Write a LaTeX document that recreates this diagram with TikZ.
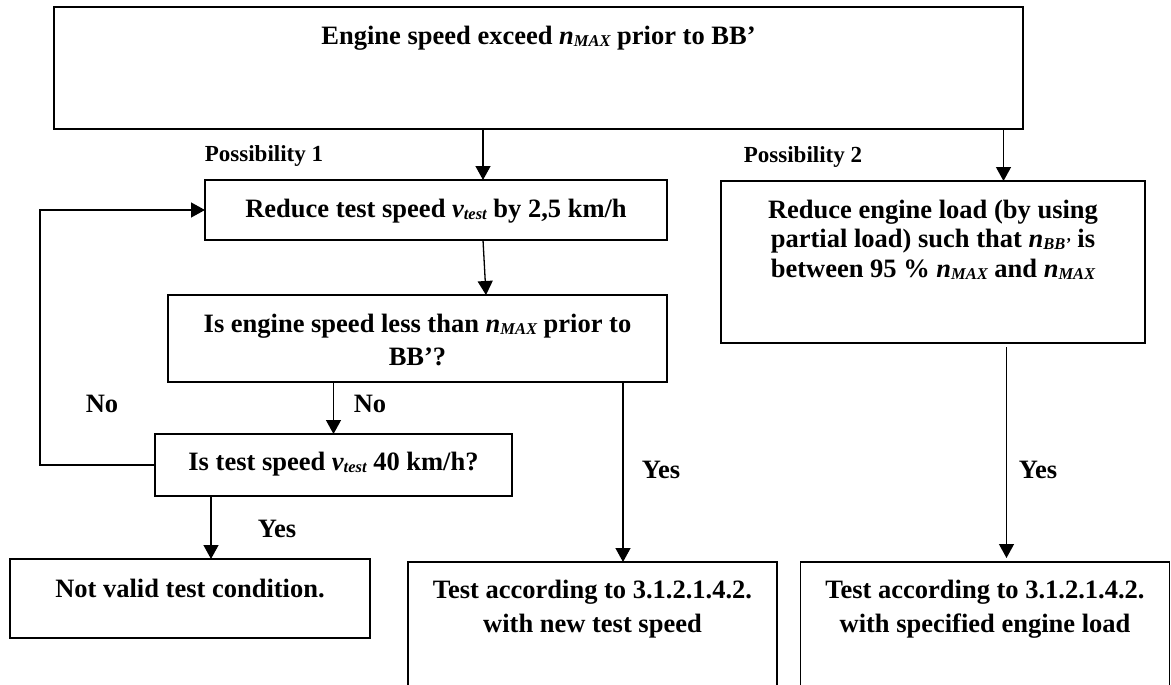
\documentclass[tikz,border=0pt]{standalone}
\usepackage{fontspec}
\setmainfont{Liberation Serif}
\usetikzlibrary{arrows.meta}
\newcommand\mainsz{\fontsize{26.5}{33}\selectfont\bfseries}
\newcommand\possz{\fontsize{23}{27}\selectfont\bfseries}
\newcommand\sbs[1]{\raisebox{-2pt}{\fontsize{16.5}{16.5}\selectfont #1}}
\newcommand\nmax{\textit{n\sbs{MAX}}}
\newcommand\vtest{\textit{v\sbs{test}}}
\newcommand\nbb{\textit{n\sbs{BB’}}}
\begin{document}
\begin{tikzpicture}[x=1pt,y=-1pt,
  boxn/.style={draw=black, line width=1.6pt, inner sep=0pt, outer sep=0pt},
  txt/.style={font=\mainsz, anchor=base, inner sep=0pt},
  small/.style={font=\possz, anchor=base, inner sep=0pt},
  arr/.style={line width=1.3pt, -{Triangle[width=15pt,length=14pt]}}]
\useasboundingbox (0,0) rectangle (1171,685);
\clip (0,0) rectangle (1171,685);
% boxes
\node[boxn, minimum width=969pt, minimum height=122pt] (top) at (538.5,68) {};
\node[boxn, minimum width=462pt, minimum height=60pt] (reduce) at (436,210) {};
\node[boxn, minimum width=499pt, minimum height=87pt] (isengine) at (417.5,338.5) {};
\node[boxn, minimum width=357pt, minimum height=62pt] (istest) at (333.5,465) {};
\node[boxn, minimum width=360pt, minimum height=79pt] (notvalid) at (190,598.5) {};
\node[boxn, minimum width=424pt, minimum height=162pt] (rightbox) at (933,262) {};
\node[boxn, minimum width=369pt, minimum height=140pt] (testA) at (592.5,632) {};
\node[boxn, minimum width=369pt, minimum height=140pt] (testB) at (985,632) {};
% texts
\node[txt] (ttop) at (538.5,45) {Engine speed exceed \nmax{} prior to BB’};
\node[txt] (treduce) at (436,217) {Reduce test speed \vtest{} by 2,5 km/h};
\node[txt] (tise1) at (417.5,332) {Is engine speed less than \nmax{} prior to};
\node[txt] (tise2) at (417.5,365) {BB’?};
\node[txt] (tist) at (333.5,470) {Is test speed \vtest{} 40 km/h?};
\node[txt] (tnv) at (190,597) {Not valid test condition.};
\node[txt] (tA1) at (592.5,598) {Test according to 3.1.2.1.4.2.};
\node[txt] (tA2) at (592.5,632) {with new test speed};
\node[txt] (tB1) at (985,598) {Test according to 3.1.2.1.4.2.};
\node[txt] (tB2) at (985,632) {with specified engine load};
\node[txt] (tR1) at (933,218) {Reduce engine load (by using};
\node[txt] (tR2) at (933,247.5) {partial load) such that \nbb{} is};
\node[txt] (tR3) at (933,277) {between 95 \% \nmax{} and \nmax};
\node[small] (pos1) at (264,161) {Possibility 1};
\node[small] (pos2) at (803,162) {Possibility 2};
\node[txt] (no1) at (102,412) {No};
\node[txt] (no2) at (370,412) {No};
\node[txt] (yes1) at (277,537) {Yes};
\node[txt] (yes2) at (661,478) {Yes};
\node[txt] (yes3) at (1038,478) {Yes};
% connectors
\draw[arr] ([xshift=-55.5pt]top.south) -- ([xshift=47pt]reduce.north);
\draw[arr] ([xshift=465pt]top.south) -- ([xshift=70.5pt]rightbox.north);
\draw[arr] ([xshift=47pt]reduce.south) -- ([xshift=68.5pt]isengine.north);
\draw[arr] ([xshift=-84pt]isengine.south) -- (istest.north);
\draw[arr] (istest.west) -- ([xshift=-115pt]istest.west) |- (reduce.west);
\draw[arr] ([xshift=-122.5pt]istest.south) -- ([xshift=21pt]notvalid.north);
\draw[arr] ([xshift=205.5pt]isengine.south) -- ([xshift=30.5pt]testA.north);
\draw[arr, shorten <=4pt, shorten >=4pt] ([xshift=73.5pt]rightbox.south) -- ([xshift=21.5pt]testB.north);
\end{tikzpicture}
\end{document}
